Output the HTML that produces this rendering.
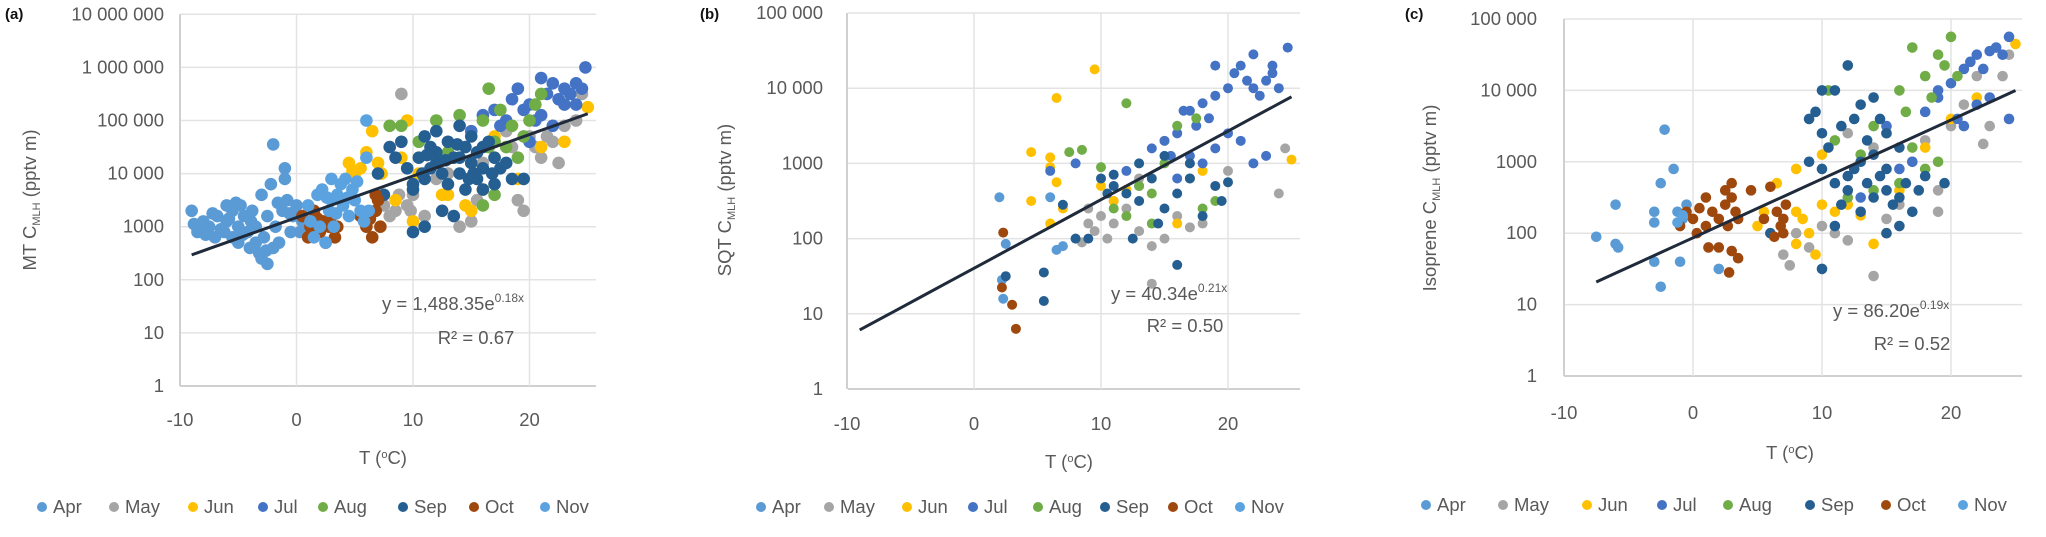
<!DOCTYPE html>
<html><head><meta charset="utf-8">
<style>
html,body{margin:0;padding:0;background:#fff;}
svg{display:block;font-family:"Liberation Sans",sans-serif;}
.tk{fill:#595959;font-size:18.5px;}
.ti{fill:#595959;font-size:18.5px;}
.pl{fill:#111;font-size:15px;font-weight:bold;}
</style></head>
<body>
<svg id="chart" width="2046" height="537" viewBox="0 0 2046 537" xmlns="http://www.w3.org/2000/svg"></svg>
<script>
const months=["Apr","May","Jun","Jul","Aug","Sep","Oct","Nov"];
const colors=["#5b9bd5","#a5a5a5","#ffc000","#4472c4","#70ad47","#255e91","#9e480e","#5ba3e0"];
const xTicks=[-10,0,10,20];

// Panel a: [T, log10 C] per month
const aApr=[[-9,3.3],[-8.8,3.05],[-8.5,2.9],[-8,3.1],[-7.8,2.85],[-7.5,3.0],[-7,2.8],[-6.8,3.2],[-6.5,2.95],[-6,3.4],[-6,3.1],[-5.5,2.8],[-5.5,3.3],[-5,3.0],[-5,2.7],[-4.5,3.2],[-4.2,2.9],[-4,2.6],[-3.8,3.3],[-3.5,3.0],[-3.2,2.5],[-3,2.4],[-3,3.6],[-2.8,2.8],[-2.5,2.3],[-2.5,3.2],[-2.2,3.8],[-2,4.55],[-1.8,3.0],[-1.5,2.7],[-1.2,3.3],[-1,4.1],[-1,3.9],[-0.8,3.5],[-0.5,2.9],[-0.3,3.2],[0,3.4],[0.3,2.9],[0.5,3.1],[-7.2,3.25],[-4.8,3.4],[-3.5,2.7],[-8.2,3.0],[-6.2,2.9],[-5.8,3.15],[-4.6,2.85],[-3.9,3.1],[-2,2.6],[-1.6,3.45],[-0.6,3.25],[-2.6,2.55],[-5.2,3.45]];
const aMay=[[8,3.2],[8.5,3.3],[9,5.5],[9.5,3.4],[10,3.6],[11,3.2],[12,3.9],[13,4.0],[14,3.0],[15,3.1],[15.5,3.5],[16,4.2],[17,4.3],[18,4.8],[19,3.5],[19.5,3.3],[20,4.7],[20.5,4.5],[21,4.3],[22,4.6],[22.5,4.2],[23,4.9],[24,5.0],[24.5,5.5],[7.5,3.4],[8.8,3.6],[9.8,3.3],[18.5,4.5],[21.5,4.7]];
const aJun=[[4.5,4.2],[5,4.0],[5.5,4.1],[6,4.4],[6.5,4.8],[7,4.2],[8.5,3.5],[9,4.3],[9.5,5.0],[10,3.1],[10.5,4.0],[12.5,3.6],[13,3.6],[14.5,3.4],[15,3.3],[16,3.7],[17,4.7],[19,3.9],[21,4.5],[23,4.6],[25,5.25],[4.8,4.05],[7.3,4.0]];
const aJul=[[15,4.8],[16,5.1],[17,5.2],[18,5.0],[18.5,5.4],[19,5.6],[19.5,5.2],[20,5.3],[20.5,5.0],[21,5.8],[21.5,5.5],[22,5.7],[22.5,5.4],[23,5.6],[23.5,5.5],[24,5.7],[24.5,5.6],[24.8,6.0],[20,4.6],[22,4.9],[24,5.3],[17.5,4.9],[21,5.1],[23,5.3]];
const aAug=[[8,4.9],[9,4.9],[10.5,4.6],[12,5.0],[14,5.1],[15,4.2],[16,5.0],[16.5,5.6],[17,4.6],[17,3.6],[17.5,5.2],[18,4.5],[19,4.3],[20,5.0],[20.5,5.3],[21,5.5],[16,3.4],[16.5,4.5],[13,4.4],[18.5,4.9],[19.5,4.7]];
const aSep=[[7,4.0],[7.5,3.6],[8,4.5],[8.5,4.3],[9,4.6],[9.5,4.1],[10,3.7],[10,2.9],[10.5,4.3],[11,4.7],[11,3.9],[11.5,4.5],[11,3.0],[12,4.2],[12,4.8],[12.5,4.0],[12.5,3.3],[13,4.6],[13,3.8],[13.5,4.3],[13.5,3.2],[14,4.9],[14,4.0],[14.5,4.5],[14.5,3.7],[15,4.2],[15,4.7],[15.5,3.9],[15.5,4.4],[16,4.1],[16,3.7],[16.5,4.6],[17,4.3],[17,3.8],[17.5,4.1],[18,4.2],[18.5,3.9],[19.5,3.9],[10,3.8],[12,4.4],[14,4.3],[16,4.5],[11.5,4.1],[12.8,4.25],[13.8,4.55],[15.2,4.0],[11.2,4.35],[14.8,3.9],[10.8,4.0],[16.8,4.0]];
const aOct=[[0.5,3.2],[1,2.8],[1.2,3.0],[1.5,3.3],[2,2.9],[2.3,3.1],[2.5,2.7],[3,3.2],[3.3,2.8],[3.5,3.0],[5.5,3.2],[6,3.0],[6.5,2.8],[6.8,3.3],[7,3.5],[7.2,3.0],[6.8,3.6],[1.8,3.15],[2.8,3.0],[6.3,3.15]];
const aNov=[[1,3.4],[1.5,2.8],[1.8,3.6],[2,3.0],[2.2,3.7],[2.5,2.7],[2.8,3.3],[3,3.9],[3,3.5],[3.2,3.0],[3.5,3.6],[3.8,3.8],[4,3.4],[4.2,3.9],[4.5,3.2],[4.8,3.7],[5,3.5],[5.5,3.3],[5.8,3.1],[6,4.3],[6,5.0],[6.2,3.3],[1.2,3.1],[2.6,3.55],[3.4,3.25],[4.4,3.55],[5.2,3.85]];

// Panel b
const bApr=[[2,2.55],[2.2,1.45],[2.3,1.2],[2.5,1.93],[6,2.55],[7,1.9],[6.5,1.85]];
const bMay=[[8,2.0],[8.5,1.95],[9,2.2],[9.5,2.1],[10,2.3],[10.5,2.0],[11,2.5],[11,2.2],[12,2.4],[13,2.1],[14,1.9],[15,2.0],[14,1.4],[16,2.3],[17,2.15],[18,2.2],[24.5,3.2],[24,2.6],[20,2.9],[13,2.8],[9,2.4]];
const bJun=[[9.5,4.25],[6.5,3.87],[4.5,3.15],[6,3.08],[6,2.95],[6.5,2.75],[4.5,2.5],[7,2.4],[6,2.2],[10,2.7],[11,2.5],[12,2.65],[15,3.3],[18,2.9],[25,3.05],[16,2.2]];
const bJul=[[19,4.3],[20,4.0],[20.5,4.2],[21,4.3],[21.5,4.1],[22,4.0],[22.5,3.9],[23,4.1],[23.5,4.2],[24,4.0],[24.7,4.54],[22,4.45],[23.5,4.3],[18,3.8],[18.5,3.6],[19,3.9],[17,3.7],[17.5,3.5],[16,3.4],[16.5,3.7],[15,3.3],[15.5,3.1],[14,3.2],[20,3.4],[21,3.3],[22,3.0],[23,3.1],[19,3.2],[18,3.0],[17,3.1],[12,2.9],[8,3.0],[6,2.9],[13,2.7],[16,2.8]];
const bAug=[[7.5,3.15],[8.5,3.18],[12,3.8],[10,2.95],[13,2.7],[14,2.6],[15,3.0],[16,3.5],[17,2.8],[17.5,3.6],[12,2.3],[14,2.2],[18,2.4],[19,2.5],[11,2.4]];
const bSep=[[2.5,1.5],[5.5,1.55],[5.5,1.17],[8,2.0],[9,2.0],[10,2.8],[11,2.7],[12,2.6],[13,2.5],[14,2.8],[15,2.4],[16,2.6],[17,2.8],[18,2.3],[19,2.7],[19.5,2.5],[16,1.65],[14.5,2.2],[12.5,2.0],[10.5,2.6],[11,2.85],[15,3.1],[17,3.0],[20,2.75],[13,3.0],[7,2.45]];
const bOct=[[2.3,2.08],[2.2,1.35],[3,1.12],[3.3,0.8]];
const bNov=[];

// Panel c
const cApr=[[-7.5,1.95],[-6,2.4],[-6,1.85],[-5.8,1.8],[-3,2.3],[-3,2.15],[-3,1.6],[-2.5,1.25],[-2.2,3.45],[-2.5,2.7],[-1.5,2.9],[-1.2,2.3],[-1,1.6],[-0.8,2.2],[-0.5,2.4],[2,1.5]];
const cMay=[[7,1.7],[7.5,1.55],[8,2.0],[9,1.8],[10,2.1],[11,2.0],[12,1.9],[14,1.4],[15,2.2],[16,2.4],[17,3.0],[18,3.3],[19,2.6],[19,2.3],[20,3.5],[21,3.8],[22,4.2],[23,3.5],[24,4.2],[24.5,4.5],[22.5,3.25],[14,3.2],[12,3.4]];
const cJun=[[5,2.1],[5.5,2.3],[6.5,2.7],[6,2.0],[8,2.3],[8.5,2.2],[9,2.0],[10,2.4],[8,1.85],[9.5,1.7],[10,3.1],[11,2.3],[12,2.4],[13,2.25],[14,1.85],[15,2.0],[16,2.6],[18,3.2],[20,3.6],[22,3.9],[25,4.65],[8,2.9]];
const cJul=[[18,3.7],[19,3.9],[19,4.0],[20,4.1],[21,4.3],[21.5,4.4],[22,4.5],[22.5,4.3],[23,4.55],[23.5,4.6],[24,4.5],[24.5,4.75],[20.5,3.6],[21,3.5],[22,3.8],[23,3.9],[24.5,3.6],[17,3.0],[16,2.9],[15,3.5],[13,2.5]];
const cAug=[[10.5,4.0],[13,3.1],[14,3.5],[15,3.4],[16,4.0],[16.5,3.7],[17,4.6],[17,3.2],[18,4.2],[18.5,3.9],[19,4.5],[19.5,4.35],[20,4.75],[20.5,4.2],[18,2.9],[16,2.7],[14,2.6],[12,2.5],[11,3.3],[19,3.0]];
const cSep=[[10,4.0],[11,4.0],[12,4.35],[11.5,3.5],[9,3.6],[9.5,3.7],[10,3.4],[10.5,3.2],[12.5,3.6],[13,3.8],[13.5,3.3],[14,3.9],[14.5,3.6],[15,3.4],[16,3.2],[9,3.0],[10,2.9],[11,2.7],[11.5,2.4],[12,2.6],[12.5,2.9],[13,2.3],[13.5,2.7],[14,2.5],[14.5,2.8],[15,2.6],[15.5,2.4],[16,2.5],[16.5,2.7],[17,2.3],[17.5,2.6],[18,2.8],[19.5,2.7],[15,2.0],[16,2.1],[10,1.5],[6,2.0],[11,2.1],[12,2.8],[13,3.0],[14,3.1],[15,2.9]];
const cOct=[[-1,2.1],[-0.5,2.3],[0,2.2],[0.3,2.0],[0.5,2.35],[1,2.5],[1,2.1],[1.5,2.3],[2,1.8],[2,2.2],[2.5,2.4],[2.5,2.6],[3,2.5],[3,2.7],[3.3,2.3],[2.7,2.1],[3.5,2.2],[3,1.75],[3.5,1.65],[2.8,1.45],[1.2,1.8],[4.5,2.6],[6,2.65],[6.5,2.3],[6.8,2.1],[7,2.2],[7.2,2.4],[7,2.0],[6.3,1.95],[5.5,2.2]];
const cNov=[[-1.2,2.15],[-0.8,2.25]];

const aYTicks=["1","10","100","1000","10 000","100 000","1 000 000","10 000 000"];
const bYTicks=["1","10","100","1000","10 000","100 000"];
const cYTicks=["1","10","100","1000","10 000","100 000"];
const aFit=[1488.35,0.18,-9,25];
const bFit=[40.34,0.21,-9,25];
const cFit=[86.20,0.19,-7.5,25];

const NS="http://www.w3.org/2000/svg";
const svg=document.getElementById('chart');
function mk(tag,attrs,parent){const e=document.createElementNS(NS,tag);for(const k in attrs)e.setAttribute(k,attrs[k]);(parent||svg).appendChild(e);return e;}

const panels=[
 {key:"a",label:"(a)",lx:5,ly:19,x0:180,xz:296.5,xs:11.65,yb:386,dec:53.1,right:596,yTicks:aYTicks,data:[aApr,aMay,aJun,aJul,aAug,aSep,aOct,aNov],fit:aFit,r:6.3,
  ytitle:"MT",ytx:30,yty:200,ttx:383,tty:464,eq:["y = 1,488.35e","0.18x",382,310,"R² = 0.67",476,344],legX:[42,114,193,263,323,403,474,545],legY:507,yTickRight:164},
 {key:"b",label:"(b)",lx:700,ly:19,x0:848,xz:974,xs:12.7,yb:389,dec:75.2,right:1300,yTicks:bYTicks,data:[bApr,bMay,bJun,bJul,bAug,bSep,bOct,bNov],fit:bFit,r:5,
  ytitle:"SQT",ytx:725,yty:200,ttx:1069,tty:468,eq:["y = 40.34e","0.21x",1111,300,"R² = 0.50",1185,332],legX:[761,829,907,973,1038,1105,1173,1240],legY:507,yTickRight:823},
 {key:"c",label:"(c)",lx:1405,ly:19,x0:1564,xz:1693,xs:12.9,yb:376,dec:71.4,right:2022,yTicks:cYTicks,data:[cApr,cMay,cJun,cJul,cAug,cSep,cOct,cNov],fit:cFit,r:5.3,
  ytitle:"Isoprene",ytx:1430,yty:198,ttx:1790,tty:459,eq:["y = 86.20e","0.19x",1833,317,"R² = 0.52",1912,350],legX:[1426,1503,1587,1662,1728,1810,1886,1963],legY:505,yTickRight:1537}
];

panels.forEach(p=>{
  const g=mk('g',{});
  
  
  const X=t=>p.xz+t*p.xs;
  const Y=l=>p.yb-l*p.dec;
  const top=Y(p.yTicks.length-1);
  p.yTicks.forEach((lab,i)=>{
    const gl=mk('line',{x1:p.x0,x2:p.right,y1:Y(i),y2:Y(i),stroke:i===0?'#d0d0d0':'#e3e3e3','stroke-width':i===0?2:1.5},g);
    
    
    const t=mk('text',{x:p.yTickRight,y:Y(i)+6,'text-anchor':'end',class:'tk'},g);
    t.textContent=lab;
    
    
  });
  xTicks.forEach(v=>{
    const gl=mk('line',{x1:X(v),x2:X(v),y1:top,y2:p.yb,stroke:v===-10?'#d0d0d0':'#e3e3e3','stroke-width':v===-10?2:1.5},g);
    
    
    const t=mk('text',{x:X(v),y:p.yb+(p.key==='a'?40:p.key==='b'?41:43),'text-anchor':'middle',class:'tk'},g);
    t.textContent=v;
    
    
  });
  p.data.forEach((arr,m)=>{
    arr.forEach(d=>{
      const c=mk('circle',{cx:X(d[0]),cy:Y(d[1]),r:p.r,fill:colors[m]},g);
      
      
    });
  });
  const f=p.fit, pts=[];
  for(let i=0;i<=20;i++){const t=f[2]+(f[3]-f[2])*i/20;pts.push(X(t)+','+Y(Math.log10(f[0]*Math.exp(f[1]*t))));}
  const tl=mk('polyline',{points:pts.join(' '),fill:'none',stroke:'#1f2a3a','stroke-width':3},g);
  
  
  const eq=mk('text',{x:p.eq[2],y:p.eq[3],class:'ti'},g);
  
  
  eq.textContent=p.eq[0];
  const sup=mk('tspan',{dy:-8,'font-size':12},eq);sup.textContent=p.eq[1];
  const r2=mk('text',{x:p.eq[5],y:p.eq[6],'text-anchor':'middle',class:'ti'},g);
  r2.textContent=p.eq[4];
  
  
  const pl=mk('text',{x:p.lx,y:p.ly,class:'pl'},g);
  pl.textContent=p.label;
  
  
  const yt=mk('text',{x:0,y:0,transform:`translate(${p.ytx+6},${p.yty}) rotate(-90)`,'text-anchor':'middle',class:'ti'},g);
  
  
  yt.textContent=p.ytitle+' C';
  const sb=mk('tspan',{dy:4,'font-size':11},yt);sb.textContent='MLH';
  const rest=mk('tspan',{dy:-4},yt);rest.textContent=' (pptv m)';
  const xt=mk('text',{x:p.ttx,y:p.tty,'text-anchor':'middle',class:'ti'},g);
  
  
  xt.textContent='T (';
  const o=mk('tspan',{dy:-6,'font-size':11},xt);o.textContent='o';
  const cc=mk('tspan',{dy:6},xt);cc.textContent='C)';
  months.forEach((mo,i)=>{
    const lg=mk('g',{},g);
    
    
    mk('circle',{cx:p.legX[i],cy:p.legY,r:5,fill:colors[i]},lg);
    const lt=mk('text',{x:p.legX[i]+11,y:p.legY+6,class:'ti'},lg);
    lt.textContent=mo;
  });
});
</script>
</body></html>
